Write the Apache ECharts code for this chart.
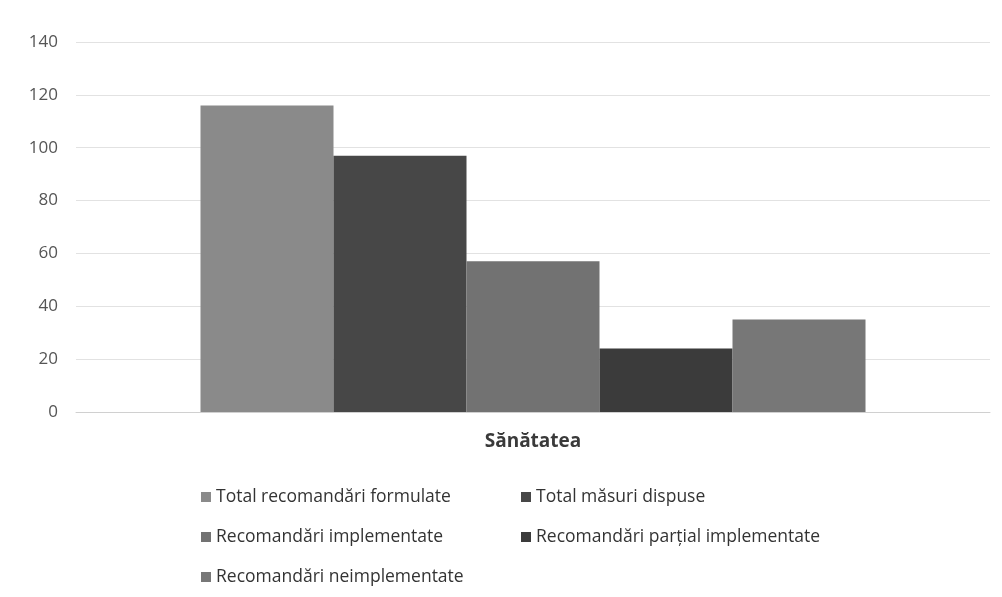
<!DOCTYPE html>
<html>
<head>
<meta charset="utf-8">
<script src="https://cdn.jsdelivr.net/npm/echarts@6/dist/echarts.min.js"></script>
<style>
  html, body { margin: 0; padding: 0; background: #fff; }
  #chart { width: 1002px; height: 597px; }
</style>
</head>
<body>
<div id="chart"></div>
<script>
// data
var categories = ['Sănătatea'];
var seriesNames = [
    'Total recomandări formulate',
    'Total măsuri dispuse',
    'Recomandări implementate',
    'Recomandări parțial implementate',
    'Recomandări neimplementate'
];
var seriesValues = [116, 97, 57, 24, 35];
var seriesColors = ['#8a8a8a', '#474747', '#727272', '#3b3b3b', '#777777'];
var yTicks = [0, 20, 40, 60, 80, 100, 120, 140];

var font = '"Open Sans", "Noto Sans", sans-serif';

var myChart = echarts.init(document.getElementById('chart'));

var series = seriesNames.map(function (name, i) {
    return {
        name: name,
        type: 'bar',
        data: [seriesValues[i]],
        barWidth: 133,
        barGap: '0%',
        itemStyle: { color: seriesColors[i] }
    };
});

var legendText = { fontFamily: font, fontSize: 17.5, color: '#333' };

var option = {
    animation: false,
    backgroundColor: '#fff',
    grid: { left: 76, right: 12, top: 42, bottom: 185 },
    legend: [
        {
            data: [seriesNames[0], seriesNames[2], seriesNames[4]],
            orient: 'vertical', left: 196, top: 483, itemGap: 22,
            itemWidth: 10, itemHeight: 10, icon: 'rect',
            textStyle: legendText
        },
        {
            data: [seriesNames[1], seriesNames[3]],
            orient: 'vertical', left: 516, top: 483, itemGap: 22,
            itemWidth: 10, itemHeight: 10, icon: 'rect',
            textStyle: legendText
        }
    ],
    xAxis: {
        type: 'category',
        data: categories,
        axisLine: { lineStyle: { color: '#d0d0d0' } },
        axisTick: { show: false },
        axisLabel: {
            fontFamily: font, fontSize: 19, fontWeight: 'bold',
            color: '#3a3a3a', margin: 20
        }
    },
    yAxis: {
        type: 'value',
        min: yTicks[0],
        max: yTicks[yTicks.length - 1],
        interval: 20,
        axisLine: { show: false },
        axisTick: { show: false },
        splitLine: { lineStyle: { color: '#e2e2e2' } },
        axisLabel: { fontFamily: font, fontSize: 17, color: '#555', margin: 18 }
    },
    series: series
};

myChart.setOption(option);
</script>
</body>
</html>
